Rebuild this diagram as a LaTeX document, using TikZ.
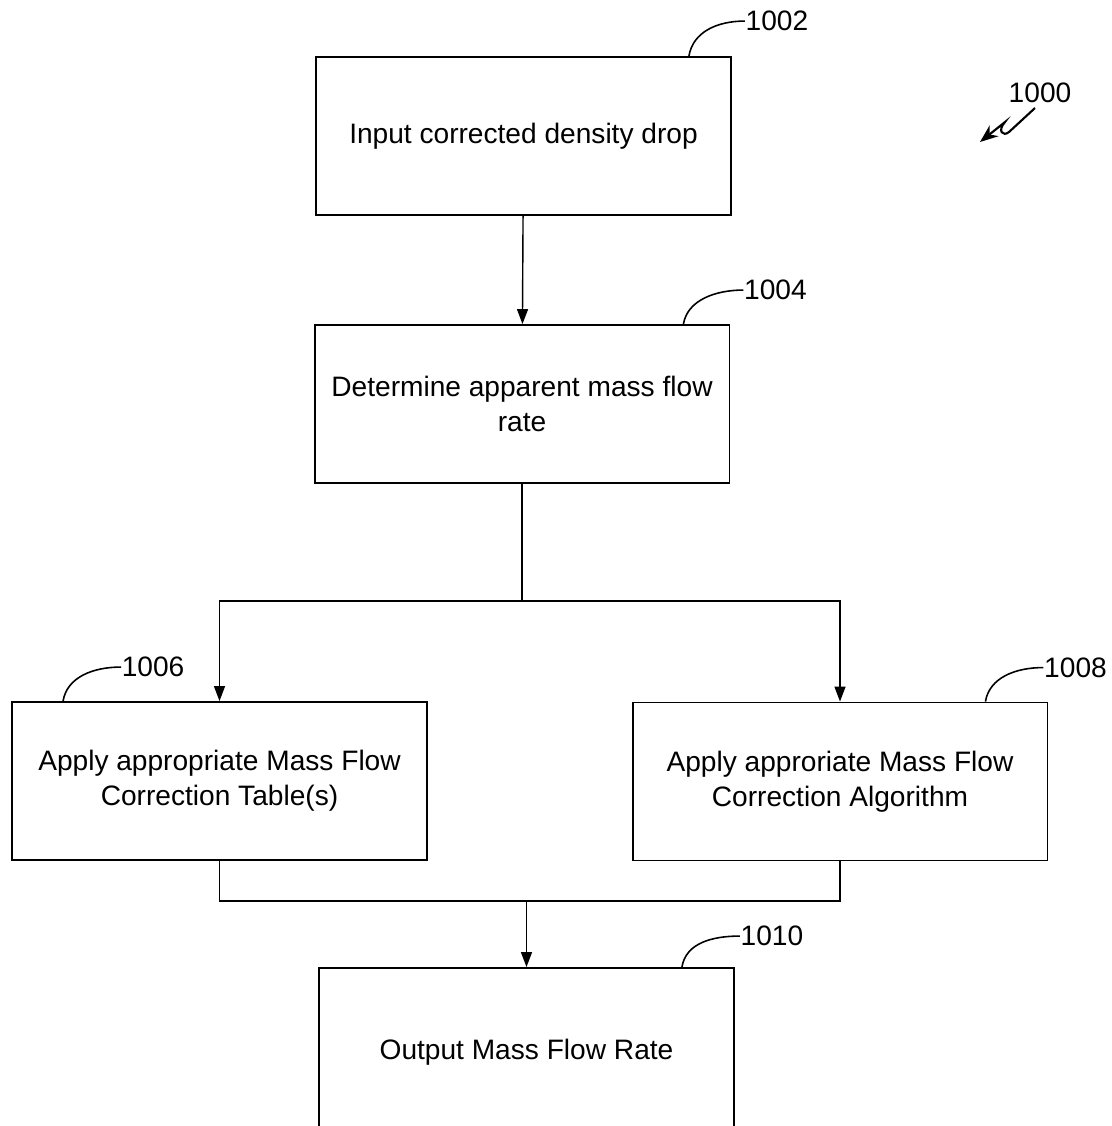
\documentclass[tikz,border=0pt]{standalone}
\usepackage{fontspec}
\setmainfont{Liberation Sans}
\usetikzlibrary{arrows.meta}
\tikzset{
 stepbox/.style={draw,line width=1.1pt,minimum width=8.3cm,minimum height=3.16cm,inner sep=0pt,align=center,font=\fontsize{16}{20}\selectfont},
 flow/.style={line width=0.8pt,-{Triangle[length=0.3cm,width=0.22cm]}},
 reftag/.style={anchor=west,inner sep=0pt,font=\fontsize{16}{19}\selectfont},
 tagline/.style={line width=0.9pt}
}
\begin{document}
\begin{tikzpicture}[x=0.02cm,y=-0.02cm]
 \useasboundingbox (0,0) rectangle (1112,1126);
 \clip (0,0) rectangle (1112,1126);
 % boxes
 \node[stepbox] (box1002) at (523.5,136) {Input corrected density drop};
 \node[stepbox] (box1004) at (522,404) {Determine apparent mass flow\\rate};
 \node[stepbox] (box1006) at (219.5,781) {Apply appropriate Mass Flow\\Correction Table(s)};
 \node[stepbox] (box1008) at (840,781.5) {Apply approriate Mass Flow\\Correction Algorithm};
 \node[stepbox,minimum height=3.36cm] (box1010) at (526.5,1052) {Output Mass Flow Rate};
 % connectors
 \coordinate (split) at (522,601);
 \coordinate (join) at (526.5,901);
 \draw[flow] (box1002) -- (box1004);
 \draw[line width=0.8pt] (box1004.south) -- (split);
 \draw[flow] (split) -| (box1006.north);
 \draw[flow] (split) -| (box1008.north);
 \draw[line width=0.8pt] (box1006.south) |- (join) -| (box1008.south);
 \draw[flow] (join) -- (box1010.north);
 % reference numerals
 \draw[tagline] ([xshift=-0.86cm]box1002.north east) .. controls +(4,-24) and +(-28,0) .. +(56,-35) node[reftag] {1002};
 \draw[tagline] ([xshift=-0.94cm]box1004.north east) .. controls +(4,-24) and +(-28,0) .. +(60,-34) node[reftag] {1004};
 \draw[tagline] ([xshift=1.04cm]box1006.north west) .. controls +(4,-24) and +(-28,0) .. +(58,-34) node[reftag] {1006};
 \draw[tagline] ([xshift=-1.26cm]box1008.north east) .. controls +(4,-24) and +(-28,0) .. +(58,-34) node[reftag] {1008};
 \draw[tagline] ([xshift=-1.06cm]box1010.north east) .. controls +(4,-24) and +(-28,0) .. +(58,-31) node[reftag] {1010};
 \node[reftag,anchor=center] (tag1000) at (1040,93) {1000};
 \draw[line width=1.2pt,-{Stealth[length=0.36cm,width=0.28cm]}] (1035,108) -- (1009,132) .. controls (1003,137) and (997,131) .. (1005,122) -- (980,142);
\end{tikzpicture}
\end{document}
